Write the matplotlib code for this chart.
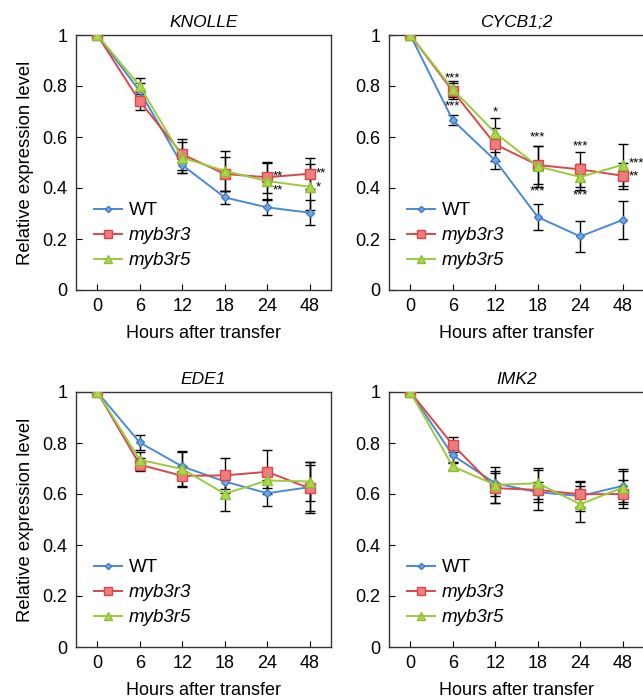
import matplotlib
matplotlib.use("Agg")
import matplotlib.pyplot as plt

plt.rcParams['font.family'] = ['Liberation Sans', 'DejaVu Sans']

hours = ["0", "6", "12", "18", "24", "48"]
genes = ["KNOLLE", "CYCB1;2", "EDE1", "IMK2"]
lines = ["WT", "myb3r3", "myb3r5"]

# mean relative expression per gene, per line
knolle_wt = [1.0, 0.78, 0.49, 0.363, 0.324, 0.303]
knolle_r3 = [1.0, 0.74, 0.532, 0.455, 0.442, 0.456]
knolle_r5 = [1.0, 0.80, 0.519, 0.467, 0.427, 0.405]
cycb_wt = [1.0, 0.666, 0.508, 0.286, 0.21, 0.275]
cycb_r3 = [1.0, 0.78, 0.571, 0.49, 0.473, 0.448]
cycb_r5 = [1.0, 0.788, 0.616, 0.485, 0.443, 0.491]
ede1_wt = [1.0, 0.802, 0.708, 0.649, 0.603, 0.627]
ede1_r3 = [1.0, 0.715, 0.671, 0.673, 0.687, 0.622]
ede1_r5 = [1.0, 0.734, 0.698, 0.601, 0.653, 0.649]
imk2_wt = [1.0, 0.752, 0.642, 0.607, 0.592, 0.632]
imk2_r3 = [1.0, 0.793, 0.623, 0.616, 0.599, 0.60]
imk2_r5 = [1.0, 0.708, 0.636, 0.642, 0.56, 0.625]

# standard errors
knolle_wt_err = [0, 0.03, 0.03, 0.025, 0.03, 0.05]
knolle_r3_err = [0, 0.035, 0.06, 0.065, 0.06, 0.06]
knolle_r5_err = [0, 0.03, 0.06, 0.08, 0.07, 0.09]
cycb_wt_err = [0, 0.02, 0.035, 0.05, 0.06, 0.075]
cycb_r3_err = [0, 0.03, 0.065, 0.075, 0.07, 0.05]
cycb_r5_err = [0, 0.03, 0.06, 0.08, 0.05, 0.083]
ede1_wt_err = [0, 0.03, 0.055, 0.03, 0.05, 0.1]
ede1_r3_err = [0, 0.025, 0.04, 0.07, 0.086, 0.09]
ede1_r5_err = [0, 0.03, 0.07, 0.067, 0.03, 0.075]
imk2_wt_err = [0, 0.025, 0.05, 0.04, 0.06, 0.065]
imk2_r3_err = [0, 0.03, 0.06, 0.08, 0.05, 0.055]
imk2_r5_err = [0, 0.015, 0.07, 0.06, 0.07, 0.065]

# significance marks: (time index, y value, text, placement)
knolle_stars = [(4, 0.445, "**", "r"), (4, 0.39, "**", "r"), (5, 0.458, "**", "r"), (5, 0.403, "*", "r")]
cycb_stars = [(1, 0.83, "***", "c"), (1, 0.72, "***", "c"), (2, 0.695, "*", "c"),
              (3, 0.60, "***", "c"), (3, 0.385, "***", "c"), (4, 0.563, "***", "c"),
              (4, 0.372, "***", "c"), (5, 0.498, "***", "r"), (5, 0.445, "**", "r")]

means = [[knolle_wt, knolle_r3, knolle_r5], [cycb_wt, cycb_r3, cycb_r5],
         [ede1_wt, ede1_r3, ede1_r5], [imk2_wt, imk2_r3, imk2_r5]]
errs = [[knolle_wt_err, knolle_r3_err, knolle_r5_err], [cycb_wt_err, cycb_r3_err, cycb_r5_err],
        [ede1_wt_err, ede1_r3_err, ede1_r5_err], [imk2_wt_err, imk2_r3_err, imk2_r5_err]]
stars = [knolle_stars, cycb_stars, [], []]

styles = [
    dict(color='#4a8ad4', marker='D', markersize=4.5, mfc='#6fa6e6', mec='#3d7cc6'),
    dict(color='#d9474c', marker='s', markersize=7.5, mfc='#f07c7c', mec='#d9474c'),
    dict(color='#9acb3c', marker='^', markersize=7.5, mfc='#a9d84a', mec='#8dbf30'),
]

W, H = 643, 699
fig = plt.figure(figsize=(W / 100, H / 100), dpi=100)
boxes = [(76, 35), (389, 35), (76, 392), (389, 392)]
aw, ah = 255, 255

x = list(range(len(hours)))
for i, gene in enumerate(genes):
    left, top = boxes[i]
    ax = fig.add_axes([left / W, (H - top - ah) / H, aw / W, ah / H])
    for j in range(3):
        ax.errorbar(x, means[i][j], yerr=errs[i][j], fmt='none', ecolor='black',
                    elinewidth=1, capsize=3.8, capthick=1, zorder=2)
    for j in range(3):
        ax.plot(x, means[i][j], lw=1.4, label=lines[j], zorder=3, **styles[j])
    for (t, yv, s, pos) in stars[i]:
        if pos == "r":
            ax.text(t + 0.13, yv, s, fontsize=9.5, ha='left', va='center')
        else:
            ax.text(t, yv, s, fontsize=9.5, ha='center', va='center')
    ax.set_xlim(-0.5, 5.5)
    ax.set_ylim(0, 1)
    ax.set_xticks(x)
    ax.set_xticklabels(hours)
    ax.set_yticks([0, 0.2, 0.4, 0.6, 0.8, 1])
    ax.set_yticklabels(["0", "0.2", "0.4", "0.6", "0.8", "1"])
    ax.tick_params(direction='in', length=4, labelsize=13, pad=6)
    ax.tick_params(axis='y', pad=6)
    for sp in ax.spines.values():
        sp.set_color('#333333')
        sp.set_linewidth(1)
    ax.set_title(gene, fontstyle='italic', fontsize=12.5, pad=6)
    ax.set_xlabel("Hours after transfer", fontsize=13, labelpad=7)
    if i % 2 == 0:
        ax.set_ylabel("Relative expression level", fontsize=13.3, labelpad=6)
    leg = ax.legend(loc='lower left', bbox_to_anchor=(0.02, 0.03), frameon=False,
                    fontsize=13.5, handlelength=1.5, handletextpad=0.35, labelspacing=0.42,
                    borderaxespad=0.3, markerscale=0.7)
    for t in leg.get_texts()[1:]:
        t.set_fontstyle('italic')

fig.savefig("out.png", dpi=100)
